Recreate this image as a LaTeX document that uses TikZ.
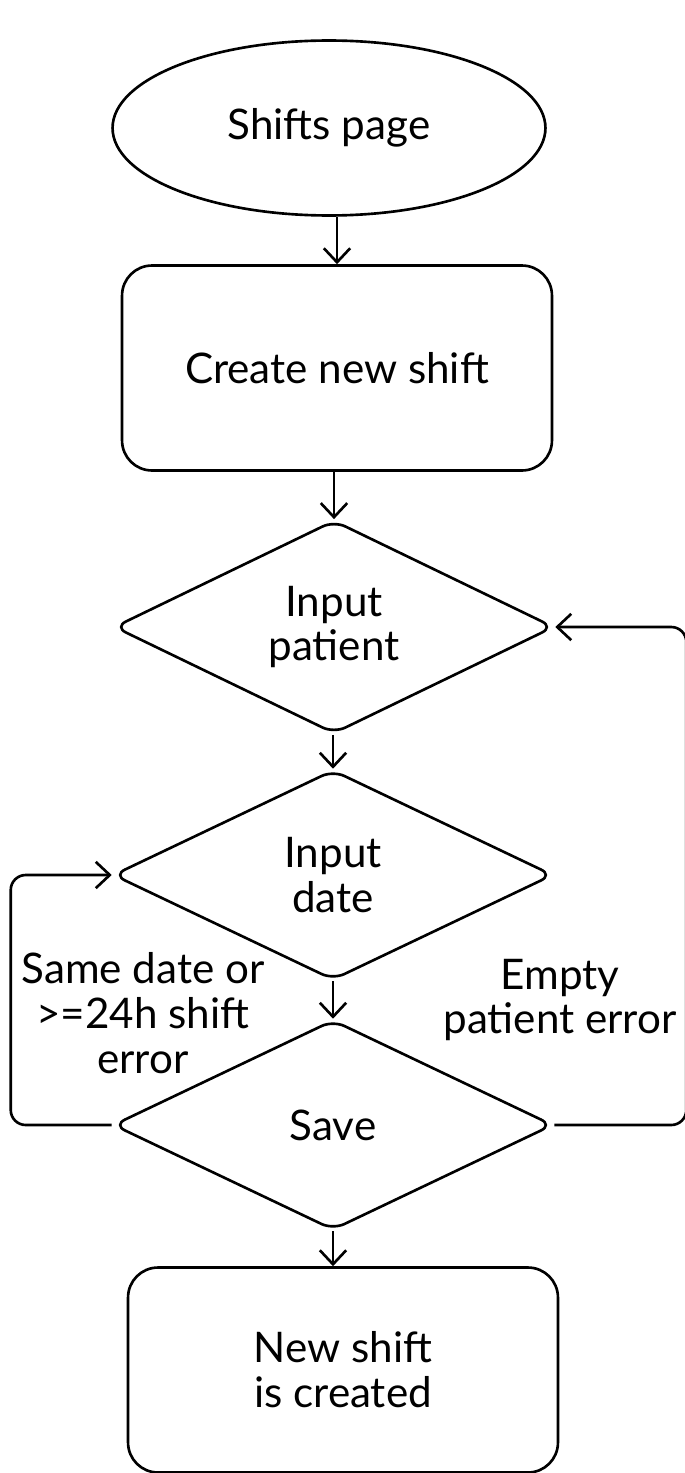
\documentclass[tikz,border=0pt]{standalone}
\usepackage{fontspec}
\setmainfont{Lato}
\usetikzlibrary{shapes.geometric,arrows.meta}
\tikzstyle{startnode}=[ellipse,draw,line width=1.5pt,minimum width=8.66cm,minimum height=3.5cm,inner sep=0pt]
\tikzstyle{stepbox}=[rectangle,draw,line width=1.5pt,rounded corners=0.6cm,minimum width=8.6cm,minimum height=4.1cm,inner sep=0pt,align=center]
\tikzstyle{choice}=[diamond,draw,line width=1.5pt,rounded corners=0.25cm,minimum width=8.8cm,minimum height=4.2cm,inner sep=0pt,align=center]
\tikzstyle{note}=[align=center,inner sep=0pt]

\begin{document}
\begin{tikzpicture}[x=0.02cm,y=-0.02cm,font=\fontsize{24}{25.5}\selectfont,>={Straight Barb[length=8pt,width=15pt]},line width=1.5pt]
\useasboundingbox (0,0) rectangle (684,1473);
\node[startnode] at (329, 128) (shifts) {Shifts page};
\node[stepbox] at (337, 368) (create) {Create new shift};
\node[choice] at (334, 627) (patient) {Input\\patient};
\node[choice] at (333, 875) (date) {Input\\date};
\node[choice] at (333, 1125) (save) {Save};
\node[stepbox] at (343, 1370) (done) {New shift\\is created};
\node[note] at (143, 1013) (dateerr) {Same date or\\>=24h shift\\error};
\node[note] at (560, 1000) (paterr) {Empty\\patient error};
\draw[->] (create.north |- shifts.south) -- (create.north);
\draw[->] (patient.north |- create.south) -- (patient.north);
\draw[->] (date.north |- patient.south) -- (date.north);
\draw[->] (save.north |- date.south) -- (save.north);
\draw[->] (save.south) -- (save.south |- done.north);
\draw[->,rounded corners=0.3cm] (save.east) -- ++(132,0) |- (patient.east);
\draw[->,rounded corners=0.3cm] (save.west) -- ++(-101,0) |- (date.west);
\end{tikzpicture}
\end{document}
